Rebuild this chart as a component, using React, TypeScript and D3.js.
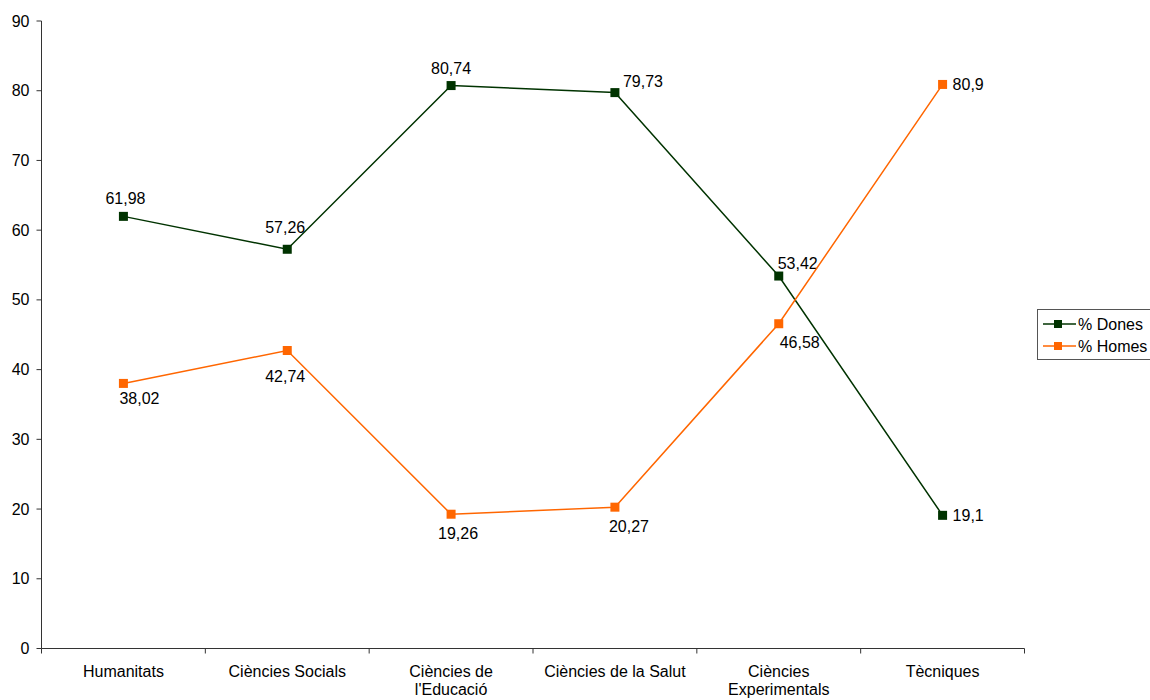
import React from "react";
import * as d3 from "d3";

const categories: string[][] = [
  ["Humanitats"],
  ["Ciències Socials"],
  ["Ciències de", "l'Educació"],
  ["Ciències de la Salut"],
  ["Ciències", "Experimentals"],
  ["Tècniques"],
];
const dones = [61.98, 57.26, 80.74, 79.73, 53.42, 19.1];
const homes = [38.02, 42.74, 19.26, 20.27, 46.58, 80.9];
const yTicks = [0, 10, 20, 30, 40, 50, 60, 70, 80, 90];
const seriesNames = ["% Dones", "% Homes"];

// label placement offsets (style only): [dx, dy of text center, anchor]
const donesLabelPos: [number, number, string][] = [
  [2, -18, "middle"], [-2, -22, "middle"], [0, -17, "middle"],
  [28, -11, "middle"], [19, -13, "middle"], [10, 0, "start"],
];
const homesLabelPos: [number, number, string][] = [
  [16, 15, "middle"], [-2, 26, "middle"], [7, 19, "middle"],
  [14, 19, "middle"], [21, 19, "middle"], [10, 0, "start"],
];

const W = 1150, H = 700;
const left = 41.5, right = 1024.5, top = 21, bottom = 648.5;
const font = "Arial, 'Liberation Sans', sans-serif";
const fs = 16;
const colors = ["#003300", "#FF6600"];

export default function App() {
  const x = d3.scaleBand<number>().domain(d3.range(categories.length)).range([left, right]).padding(0);
  const y = d3.scaleLinear().domain([0, 90]).range([bottom, top]);
  const cx = (i: number) => (x(i) as number) + x.bandwidth() / 2;
  const line = d3.line<number>().x((_, i) => cx(i)).y((d) => y(d));
  const series = [dones, homes];
  const labelPos = [donesLabelPos, homesLabelPos];
  const ms = 9;
  return (
    <svg width={W} height={H} style={{ position: "absolute", left: 0, top: 0, fontFamily: font }}>
      <rect width={W} height={H} fill="#fff" />
      {/* axes */}
      <line x1={left} x2={left} y1={top} y2={bottom} stroke="#333" strokeWidth={1} />
      <line x1={left} x2={right} y1={bottom} y2={bottom} stroke="#333" strokeWidth={1} />
      {yTicks.map((t) => (
        <g key={t}>
          <line x1={left - 5} x2={left} y1={y(t)} y2={y(t)} stroke="#333" />
          <text x={left - 12} y={y(t)} dy="0.35em" textAnchor="end" fontSize={fs} fill="#000">{t}</text>
        </g>
      ))}
      {d3.range(categories.length + 1).map((i) => {
        const xx = i < categories.length ? (x(i) as number) : right;
        return <line key={i} x1={xx} x2={xx} y1={bottom} y2={bottom + 5} stroke="#333" />;
      })}
      {categories.map((c, i) => (
        <text key={i} x={cx(i)} y={677} textAnchor="middle" fontSize={fs} fill="#000">
          {c.map((l, j) => (
            <tspan key={j} x={cx(i)} dy={j === 0 ? 0 : 18}>{l}</tspan>
          ))}
        </text>
      ))}
      {series.map((s, si) => (
        <g key={si}>
          <path d={line(s) || ""} fill="none" stroke={colors[si]} strokeWidth={1.5} />
          {s.map((v, i) => (
            <rect key={i} x={cx(i) - ms / 2} y={y(v) - ms / 2} width={ms} height={ms} fill={colors[si]} />
          ))}
          {s.map((v, i) => {
            const [dx, dy, anchor] = labelPos[si][i];
            return (
              <text key={"l" + i} x={cx(i) + dx} y={y(v) + dy} dy="0.35em" textAnchor={anchor as any} fontSize={fs} fill="#000">
                {String(v).replace(".", ",")}
              </text>
            );
          })}
        </g>
      ))}
      {/* legend */}
      <rect x={1037.5} y={309.5} width={130} height={50} fill="#fff" stroke="#555" />
      {seriesNames.map((n, i) => {
        const ly = 324 + i * 22;
        return (
          <g key={n}>
            <line x1={1043} x2={1076} y1={ly} y2={ly} stroke={colors[i]} strokeWidth={1.5} />
            <rect x={1058 - 4} y={ly - 4} width={8} height={8} fill={colors[i]} />
            <text x={1078} y={ly} dy="0.35em" fontSize={fs} fill="#000">{n}</text>
          </g>
        );
      })}
    </svg>
  );
}
